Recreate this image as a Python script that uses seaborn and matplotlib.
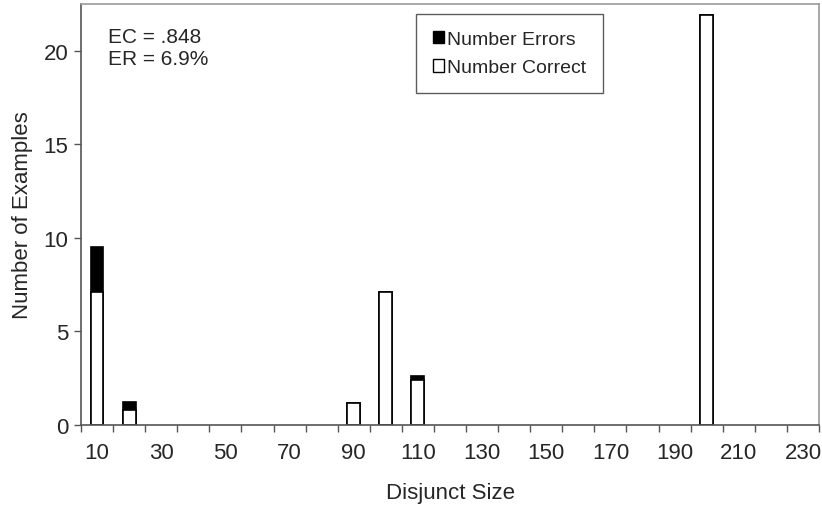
import matplotlib
matplotlib.use("Agg")
import matplotlib.pyplot as plt
import seaborn as sns
import pandas as pd
from matplotlib.patches import Patch

sizes = [str(v) for v in range(10, 240, 10)]
bar_sizes = ["10", "20", "90", "100", "110", "200"]
correct = [7.1, 0.8, 1.2, 7.1, 2.4, 21.9]
errors = [2.4, 0.45, 0.0, 0.0, 0.2, 0.0]
y_ticks = [0, 5, 10, 15, 20]
x_labels = [s if i % 2 == 0 else "" for i, s in enumerate(sizes)]

sns.set_theme(style="white")
plt.rcParams["font.family"] = ["Liberation Sans", "DejaVu Sans"]

df = pd.DataFrame({"size": bar_sizes, "correct": correct, "errors": errors})
df["total"] = df["correct"] + df["errors"]

fig = plt.figure(figsize=(8.22, 5.06), dpi=100)
ax = fig.add_axes([81/822, 80/506, (819-81)/822, (426-5)/506])

sns.barplot(data=df, x="size", y="total", order=sizes, color="black",
            edgecolor="black", linewidth=1.2, width=0.4, saturation=1, ax=ax)
sns.barplot(data=df, x="size", y="correct", order=sizes, color="white",
            edgecolor="black", linewidth=1.2, width=0.4, saturation=1, ax=ax)

FS = 16
ax.set_xlim(-0.5, len(sizes) - 0.5)
ax.set_ylim(0, 22.5)
ax.set_yticks(y_ticks)
ax.set_yticklabels([str(t) for t in y_ticks], fontsize=FS)
ax.set_xticks(range(len(sizes)))
ax.set_xticklabels(x_labels, fontsize=FS)
ax.tick_params(axis="x", which="major", length=0, pad=12)
ax.set_xticks([i - 0.5 for i in range(len(sizes) + 1)], minor=True)
ax.tick_params(axis="x", which="minor", length=5, width=1, color="#555555", direction="out")
ax.tick_params(axis="y", length=5, width=1, color="#555555", direction="out", pad=4)
ax.tick_params(bottom=True, left=True)
ax.xaxis.set_tick_params(which="minor", bottom=True)

ax.set_xlabel("Disjunct Size", fontsize=FS, labelpad=14)
ax.set_ylabel("Number of Examples", fontsize=FS, labelpad=8)

for side in ["left", "bottom"]:
    ax.spines[side].set_color("#555555")
    ax.spines[side].set_linewidth(1.2)
for side in ["top", "right"]:
    ax.spines[side].set_color("#999999")
    ax.spines[side].set_linewidth(1.2)

ax.text(0.036, 0.945, "EC = .848\nER = 6.9%", transform=ax.transAxes,
        fontsize=15, va="top", ha="left", linespacing=1.2)

handles = [Patch(facecolor="black", edgecolor="black", label="Number Errors"),
           Patch(facecolor="white", edgecolor="black", label="Number Correct")]
leg = ax.legend(handles=handles, loc="upper left", bbox_to_anchor=(0.454, 0.976),
                fontsize=14, frameon=True, fancybox=False, handlelength=0.6,
                handleheight=0.6, handletextpad=0.15, borderpad=0.85, labelspacing=0.6,
                borderaxespad=0)
leg.get_frame().set_edgecolor("#333333")
leg.get_frame().set_linewidth(1.0)

fig.savefig("out.png", dpi=100)
